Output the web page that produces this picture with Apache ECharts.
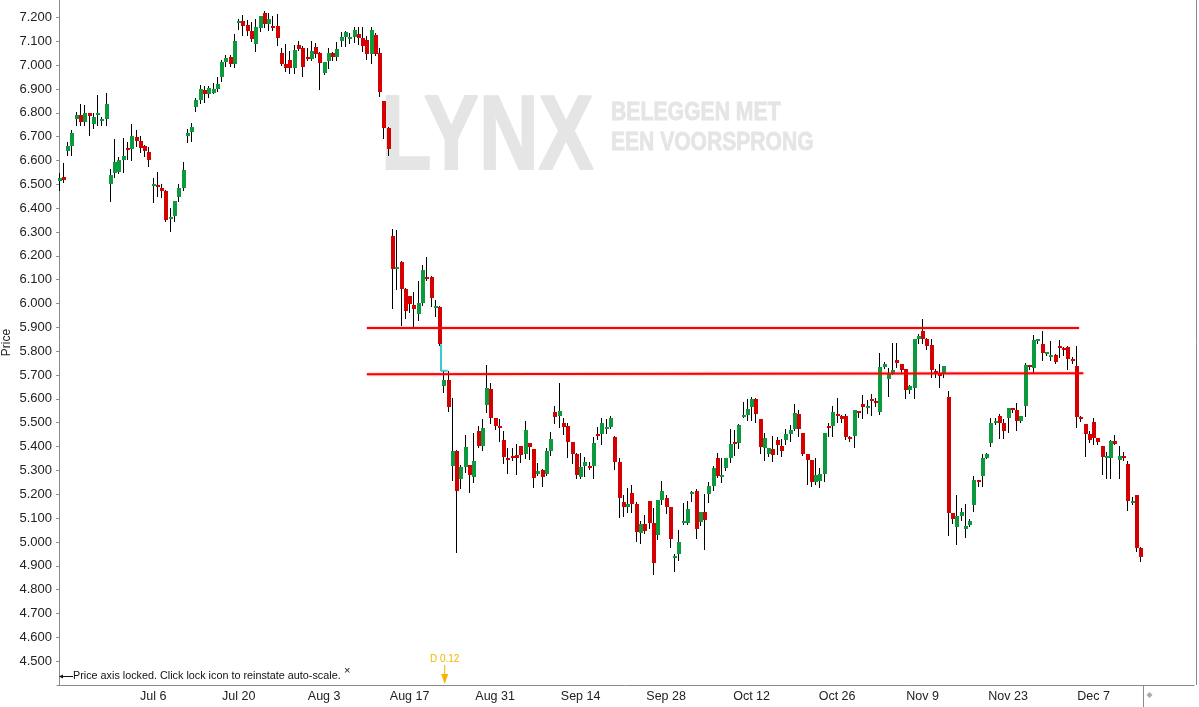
<!DOCTYPE html>
<html>
<head>
<meta charset="utf-8">
<script src="https://cdn.jsdelivr.net/npm/echarts@6/dist/echarts.min.js"></script>
<style>
html,body{margin:0;padding:0;background:#fff;}
#chart{width:1199px;height:707px;}
</style>
</head>
<body>
<div id="chart"></div>
<script>
// ---------------- DATA ----------------
const firstTradingDay = '2020-06-19';
const sessionsPerDay = 2;
const totalSlots = 266;                 // slots on the time axis (incl. empty future space)
const tickLabels = ['Jul 6','Jul 20','Aug 3','Aug 17','Aug 31','Sep 14','Sep 28','Oct 12','Oct 26','Nov 9','Nov 23','Dec 7'];

const opens = [6.515,6.530,6.638,6.662,6.773,6.792,6.760,6.801,6.752,6.790,6.764,6.773,6.500,6.546,6.553,6.604,6.651,6.647,6.700,6.683,
6.659,6.637,6.492,6.499,6.486,6.473,6.357,6.366,6.448,6.483,6.704,6.721,6.826,6.854,6.896,6.879,6.883,6.900,6.952,7.013,
7.034,7.005,7.178,7.185,7.169,7.143,7.090,7.157,7.219,7.174,7.164,7.164,7.051,7.005,7.022,6.987,7.085,7.072,7.034,7.026,
7.076,7.051,6.967,7.018,7.051,7.034,7.101,7.118,7.110,7.118,7.131,7.114,7.106,7.047,7.127,7.051,6.850,6.736,6.283,6.143,
6.175,6.061,6.031,5.994,5.957,6.002,6.111,6.111,5.982,5.985,5.655,5.679,5.319,5.381,5.262,5.315,5.322,5.273,5.465,5.403,
5.575,5.641,5.518,5.486,5.427,5.353,5.360,5.363,5.402,5.370,5.414,5.389,5.286,5.301,5.286,5.381,5.546,5.529,5.498,5.486,
5.420,5.368,5.273,5.319,5.319,5.318,5.452,5.452,5.473,5.482,5.440,5.335,5.167,5.147,5.205,5.160,5.038,5.075,5.171,5.079,
5.030,5.175,5.184,5.146,4.933,4.950,5.080,5.080,5.201,5.213,5.084,5.125,5.201,5.234,5.352,5.273,5.310,5.352,5.420,5.416,
5.525,5.532,5.566,5.599,5.515,5.394,5.370,5.389,5.427,5.402,5.427,5.454,5.475,5.536,5.456,5.368,5.343,5.252,5.256,5.286,
5.487,5.487,5.536,5.528,5.528,5.441,5.445,5.549,5.578,5.561,5.599,5.591,5.545,5.733,5.684,5.705,5.763,5.746,5.725,5.638,
5.645,5.851,5.884,5.851,5.826,5.717,5.704,5.708,5.607,5.121,5.063,5.108,5.055,5.070,5.154,5.259,5.276,5.351,5.414,5.498,
5.528,5.498,5.519,5.561,5.553,5.507,5.570,5.742,5.729,5.842,5.830,5.788,5.775,5.784,5.821,5.813,5.817,5.767,5.738,5.524,
5.494,5.452,5.503,5.435,5.402,5.353,5.353,5.423,5.345,5.360,5.326,5.163,5.196,4.974];

const highs = [6.546,6.590,6.679,6.729,6.802,6.837,6.834,6.801,6.799,6.876,6.784,6.882,6.566,6.692,6.615,6.696,6.676,6.755,6.727,6.701,
6.663,6.655,6.528,6.552,6.501,6.475,6.399,6.431,6.500,6.594,6.732,6.757,6.864,6.917,6.914,6.914,6.925,6.950,7.022,7.043,
7.043,7.131,7.194,7.211,7.190,7.180,7.194,7.206,7.225,7.219,7.206,7.215,7.072,7.089,7.060,7.085,7.101,7.080,7.072,7.101,
7.093,7.053,7.015,7.072,7.055,7.097,7.139,7.143,7.135,7.160,7.160,7.160,7.122,7.160,7.135,7.072,6.850,6.741,6.313,6.308,
6.180,6.063,6.033,6.047,6.094,6.162,6.195,6.115,6.015,5.990,5.718,5.718,5.602,5.385,5.322,5.448,5.322,5.458,5.486,5.515,
5.742,5.665,5.520,5.514,5.465,5.395,5.395,5.410,5.402,5.507,5.415,5.390,5.332,5.308,5.393,5.461,5.570,5.666,5.518,5.498,
5.420,5.375,5.371,5.357,5.336,5.441,5.482,5.519,5.515,5.528,5.444,5.351,5.196,5.226,5.238,5.167,5.087,5.112,5.171,5.142,
5.175,5.255,5.196,5.146,4.949,5.050,5.163,5.171,5.213,5.222,5.125,5.201,5.251,5.318,5.373,5.352,5.352,5.473,5.469,5.494,
5.587,5.599,5.608,5.604,5.516,5.457,5.394,5.444,5.440,5.431,5.473,5.491,5.578,5.553,5.456,5.370,5.345,5.352,5.311,5.456,
5.498,5.570,5.603,5.532,5.536,5.445,5.553,5.550,5.616,5.595,5.620,5.603,5.792,5.754,5.729,5.834,5.834,5.746,5.725,5.658,
5.851,5.872,5.935,5.855,5.851,5.725,5.746,5.737,5.633,5.121,5.196,5.142,5.158,5.095,5.276,5.260,5.368,5.372,5.519,5.519,
5.536,5.515,5.561,5.561,5.582,5.528,5.750,5.742,5.868,5.851,5.884,5.797,5.842,5.788,5.847,5.817,5.821,5.775,5.822,5.528,
5.495,5.465,5.519,5.436,5.402,5.377,5.427,5.448,5.402,5.377,5.339,5.188,5.196,4.978];

const lows = [6.476,6.510,6.622,6.622,6.748,6.750,6.748,6.706,6.735,6.750,6.748,6.750,6.429,6.529,6.546,6.550,6.605,6.602,6.662,6.634,
6.620,6.576,6.424,6.450,6.448,6.348,6.306,6.348,6.429,6.475,6.679,6.682,6.808,6.843,6.847,6.868,6.883,6.892,6.934,6.998,
6.995,6.992,7.152,7.127,7.127,7.101,7.060,7.141,7.160,7.149,7.148,7.085,7.001,6.976,6.967,6.967,7.064,6.956,7.022,7.022,
7.034,6.900,6.963,6.987,7.022,7.022,7.082,7.080,7.093,7.097,7.089,7.060,7.026,7.009,7.043,6.872,6.693,6.624,5.980,6.059,
5.910,5.940,5.966,5.899,5.932,5.992,6.098,5.991,5.949,5.826,5.630,5.550,5.259,4.959,5.227,5.294,5.210,5.252,5.399,5.385,
5.543,5.497,5.472,5.423,5.332,5.290,5.343,5.286,5.336,5.353,5.349,5.231,5.280,5.234,5.280,5.365,5.500,5.480,5.451,5.357,
5.332,5.269,5.269,5.277,5.305,5.269,5.433,5.412,5.458,5.477,5.305,5.105,5.109,5.126,5.126,5.005,4.996,5.038,5.059,4.866,
5.013,5.158,5.122,4.979,4.879,4.925,5.077,5.076,5.171,5.017,5.072,4.971,5.167,5.217,5.272,5.251,5.301,5.335,5.364,5.395,
5.525,5.511,5.511,5.503,5.374,5.343,5.360,5.339,5.368,5.360,5.410,5.424,5.470,5.445,5.365,5.244,5.235,5.244,5.231,5.256,
5.445,5.445,5.504,5.504,5.433,5.424,5.399,5.524,5.519,5.540,5.532,5.570,5.536,5.729,5.612,5.704,5.733,5.712,5.605,5.624,
5.605,5.835,5.835,5.809,5.691,5.691,5.649,5.693,5.031,5.081,4.993,5.093,5.021,5.066,5.129,5.235,5.234,5.351,5.402,5.494,
5.435,5.435,5.460,5.545,5.469,5.503,5.528,5.725,5.708,5.834,5.763,5.784,5.763,5.750,5.775,5.784,5.725,5.750,5.483,5.507,
5.361,5.419,5.412,5.409,5.284,5.269,5.269,5.409,5.269,5.343,5.133,5.158,4.963,4.921];

const closes = [6.526,6.520,6.662,6.717,6.792,6.760,6.801,6.785,6.784,6.797,6.773,6.838,6.541,6.595,6.604,6.617,6.643,6.704,6.683,6.651,
6.638,6.604,6.500,6.487,6.471,6.349,6.364,6.431,6.486,6.562,6.715,6.741,6.854,6.900,6.879,6.903,6.900,6.921,7.013,7.030,
7.005,7.101,7.185,7.166,7.143,7.110,7.160,7.206,7.174,7.194,7.157,7.115,7.005,6.988,6.987,7.064,7.068,6.994,7.026,7.060,
7.047,7.009,7.013,7.051,7.034,7.068,7.118,7.139,7.118,7.148,7.115,7.080,7.047,7.148,7.047,6.887,6.736,6.650,6.143,6.153,
6.062,5.970,5.996,5.978,6.002,6.141,6.104,6.024,5.989,5.829,5.679,5.567,5.381,5.214,5.315,5.400,5.279,5.339,5.403,5.477,
5.645,5.521,5.487,5.477,5.357,5.343,5.352,5.354,5.365,5.469,5.398,5.269,5.297,5.273,5.381,5.431,5.525,5.549,5.483,5.420,
5.370,5.280,5.314,5.335,5.311,5.414,5.444,5.498,5.482,5.519,5.335,5.185,5.147,5.158,5.160,5.042,5.075,5.047,5.080,4.912,
5.175,5.213,5.147,5.013,4.943,4.999,5.087,5.138,5.209,5.055,5.125,5.093,5.234,5.310,5.276,5.280,5.352,5.410,5.412,5.490,
5.532,5.557,5.599,5.538,5.398,5.436,5.394,5.366,5.406,5.381,5.452,5.469,5.540,5.475,5.370,5.345,5.252,5.282,5.286,5.456,
5.479,5.545,5.528,5.515,5.441,5.433,5.553,5.540,5.565,5.570,5.591,5.582,5.733,5.746,5.710,5.721,5.750,5.721,5.638,5.654,
5.851,5.863,5.851,5.822,5.721,5.708,5.698,5.737,5.123,5.097,5.108,5.125,5.066,5.087,5.259,5.252,5.351,5.368,5.498,5.507,
5.498,5.465,5.561,5.553,5.507,5.528,5.742,5.733,5.847,5.851,5.792,5.796,5.784,5.754,5.813,5.805,5.767,5.758,5.525,5.515,
5.454,5.427,5.435,5.419,5.356,5.361,5.423,5.412,5.360,5.353,5.172,5.171,4.974,4.937];

// drawn trend lines [startSlot, startPrice, endSlot, endPrice]
const resistanceLine = [72.0, 5.897, 238.6, 5.897];
const supportLine    = [72.0, 5.703, 239.6, 5.708];
// dividend gap connector (cyan) : points [slot, price]
const dividendGap = [[89.33, 5.829], [89.33, 5.718], [90.9, 5.718]];
const dividendMarker = { slot: 90.2, label: 'D 0.12' };

// ---------------- BUILD ----------------
const monthNames = ['Jan','Feb','Mar','Apr','May','Jun','Jul','Aug','Sep','Oct','Nov','Dec'];
function fmtDay(iso){ const d = new Date(iso+'T12:00:00Z'); return monthNames[d.getUTCMonth()] + ' ' + d.getUTCDate(); }
const categories = [];
(function(){
  let d = new Date(firstTradingDay+'T12:00:00Z');
  while (categories.length < totalSlots) {
    const wd = d.getUTCDay();
    if (wd !== 0 && wd !== 6) {
      const iso = d.toISOString().slice(0,10);
      for (let s = 1; s <= sessionsPerDay && categories.length < totalSlots; s++) categories.push(iso + ' ' + s);
    }
    d = new Date(d.getTime() + 86400000);
  }
})();
function isTick(idx, value){
  const parts = String(value).split(' ');
  return parts[1] === '1' && tickLabels.indexOf(fmtDay(parts[0])) >= 0;
}
const candleData = opens.map((o,i)=>[i, o, closes[i], lows[i], highs[i]]);

const UP = '#0b9a3e', DOWN = '#d50000', BODY_W = 4;
function renderCandle(params, api){
  const i = api.value(0), o = api.value(1), c = api.value(2), l = api.value(3), h = api.value(4);
  const pO = api.coord([i,o]), pC = api.coord([i,c]), pL = api.coord([i,l]), pH = api.coord([i,h]);
  const cx = Math.round(pO[0] - 0.5);
  let top = Math.round(Math.min(pO[1],pC[1])), bot = Math.round(Math.max(pO[1],pC[1]));
  if (bot - top < 2) bot = top + 2;
  return { type:'group', children:[
    { type:'line', shape:{x1:cx+0.5, y1:Math.round(pH[1]), x2:cx+0.5, y2:Math.round(pL[1])+1}, style:{stroke:'#000', lineWidth:1} },
    { type:'rect', shape:{x:cx-1, y:top, width:BODY_W, height:bot-top}, style:{fill: c>=o?UP:DOWN} }
  ]};
}

const font = 'Liberation Sans';
const wmColor = '#e5e5e5';
const chart = echarts.init(document.getElementById('chart'), null, {renderer:'canvas'});
const option = {
  animation:false,
  backgroundColor:'#ffffff',
  grid:{left:57, right:5, top:0, bottom:22, containLabel:false, outerBoundsMode:'none'},
  xAxis:[{
    type:'category', data:categories, boundaryGap:true,
    axisLine:{lineStyle:{color:'#8a8a8a'}},
    axisTick:{interval:isTick, length:4, lineStyle:{color:'#8a8a8a'}},
    axisLabel:{interval:isTick, formatter:v=>fmtDay(String(v).split(' ')[0]), color:'#222', fontFamily:font, fontSize:12.5, margin:5},
    splitLine:{show:false}
  },{
    type:'value', min:-0.5, max:totalSlots-0.5, show:false, gridIndex:0
  }],
  yAxis:{
    type:'value', min:4.4, max:7.273, interval:0.1,
    name:'Price', nameLocation:'middle', nameGap:44, nameRotate:90, nameMoveOverlap:false,
    nameTextStyle:{color:'#222', fontFamily:font, fontSize:12},
    axisLine:{show:true, lineStyle:{color:'#8a8a8a'}},
    axisTick:{show:true, length:3, lineStyle:{color:'#8a8a8a'}},
    axisLabel:{formatter:v=>v.toFixed(3), color:'#222', fontFamily:font, fontSize:13, margin:5, showMinLabel:false, showMaxLabel:false},
    splitLine:{show:false}
  },
  graphic:[
    {type:'text', id:'wm1', x:381, y:140, scaleX:0.786, z:0, style:{text:'LYNX', fill:wmColor, stroke:wmColor, lineWidth:2, font:'bold 105px "Liberation Sans"', verticalAlign:'middle'}},
    {type:'text', id:'wm2', x:611, y:113, scaleX:0.80, z:0, style:{text:'BELEGGEN MET', fill:wmColor, stroke:wmColor, lineWidth:0.8, font:'bold 26.5px "Liberation Sans"', verticalAlign:'middle'}},
    {type:'text', id:'wm3', x:611, y:142.5, scaleX:0.795, z:0, style:{text:'EEN VOORSPRONG', fill:wmColor, stroke:wmColor, lineWidth:0.8, font:'bold 26.5px "Liberation Sans"', verticalAlign:'middle'}},
    {type:'line', id:'lockarrow', z:10, shape:{x1:60, y1:676.5, x2:73, y2:676.5}, style:{stroke:'#111', lineWidth:1}},
    {type:'polygon', id:'lockhead', z:10, shape:{points:[[59,676.5],[63,674.5],[63,678.5]]}, style:{fill:'#111'}},
    {type:'text', id:'lock', x:73, y:676, z:10, style:{text:'Price axis locked. Click lock icon to reinstate auto-scale.', fill:'#111', font:'10.8px "Liberation Sans"', verticalAlign:'middle'}},
    {type:'text', id:'lockx', x:344, y:671, z:10, style:{text:'\u00d7', fill:'#111', font:'11px "Liberation Sans"', verticalAlign:'middle'}},
    {type:'line', id:'rborder', z:10, shape:{x1:1196.5, y1:0, x2:1196.5, y2:685}, style:{stroke:'#8a8a8a', lineWidth:1}}
  ],
  series:[
    { type:'custom', name:'candles', xAxisIndex:0, yAxisIndex:0, z:3, clip:true,
      renderItem:renderCandle, encode:{x:0, y:[1,2,3,4]}, data:candleData },
    { type:'line', xAxisIndex:1, z:4, symbol:'none', silent:true,
      data:[[resistanceLine[0],resistanceLine[1]],[resistanceLine[2],resistanceLine[3]]],
      lineStyle:{color:'#ff0000', width:2, shadowColor:'rgba(255,0,0,0.45)', shadowBlur:2} },
    { type:'line', xAxisIndex:1, z:4, symbol:'none', silent:true,
      data:[[supportLine[0],supportLine[1]],[supportLine[2],supportLine[3]]],
      lineStyle:{color:'#ff0000', width:2, shadowColor:'rgba(255,0,0,0.45)', shadowBlur:2} },
    { type:'line', xAxisIndex:1, z:4, symbol:'none', silent:true,
      data:dividendGap, lineStyle:{color:'#3cc8d2', width:2} }
  ]
};
chart.setOption(option);

// elements placed through the chart's own scales
const sepX = Math.round(chart.convertToPixel({xAxisIndex:1}, candleData.length - 0.5)) + 0.5;
const divX = chart.convertToPixel({xAxisIndex:1}, dividendMarker.slot);
const axisY = chart.convertToPixel({yAxisIndex:0}, 4.4);
chart.setOption({graphic:[
  {type:'line', id:'sep', z:10, shape:{x1:sepX, y1:axisY, x2:sepX, y2:707}, style:{stroke:'#8a8a8a', lineWidth:1}},
  {type:'polygon', id:'sepicon', z:10, shape:{points:[[sepX+3,axisY+10],[sepX+6,axisY+7],[sepX+9,axisY+10],[sepX+6,axisY+13]]}, style:{fill:'#aaaaaa'}},
  {type:'text', id:'divlbl', z:10, x:divX, y:axisY-26, style:{text:dividendMarker.label, fill:'#f5b400', font:'10px "Liberation Sans"', align:'center', verticalAlign:'middle'}},
  {type:'line', id:'divshaft', z:10, shape:{x1:divX, y1:axisY-20, x2:divX, y2:axisY-8}, style:{stroke:'#f5b400', lineWidth:1}},
  {type:'polygon', id:'divhead', z:10, shape:{points:[[divX-3.5,axisY-11],[divX+3.5,axisY-11],[divX,axisY-1]]}, style:{fill:'#f5b400'}}
]});
</script>
</body>
</html>
